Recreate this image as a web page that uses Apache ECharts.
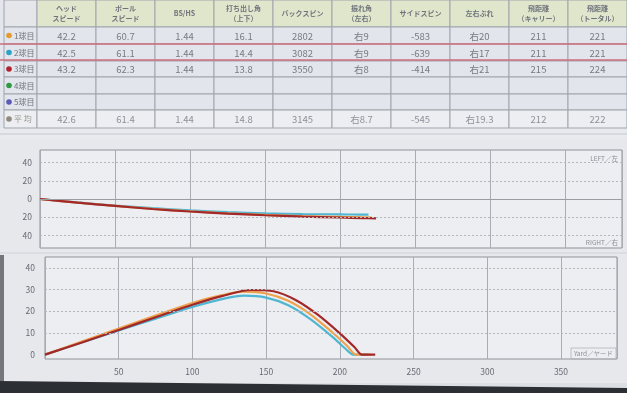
<!DOCTYPE html>
<html><head><meta charset="utf-8">
<script src="https://cdn.jsdelivr.net/npm/echarts@6/dist/echarts.min.js"></script>
<style>html,body{margin:0;padding:0;background:#dcdfe4}#c{width:627px;height:393px}</style>
</head><body><div id="c"></div>
<script>
// ---- table data ----
const headers = ['ヘッド\nスピード','ボール\nスピード','BS/HS','打ち出し角\n（上下）','バックスピン','振れ角\n（左右）','サイドスピン','左右ぶれ','飛距離\n（キャリー）','飛距離\n（トータル）'];
const rowLabels = ['1球目','2球目','3球目','4球目','5球目','平 均'];
const rowDotColors = ['#e49a2c','#2aa3c4','#b0222e','#2e9a44','#5a5ab8','#8f8a80'];
const shot1 = ['42.2','60.7','1.44','16.1','2802','右9','-583','右20','211','221'];
const shot2 = ['42.5','61.1','1.44','14.4','3082','右9','-639','右17','211','221'];
const shot3 = ['43.2','62.3','1.44','13.8','3550','右8','-414','右21','215','224'];
const shot4 = ['','','','','','','','','',''];
const shot5 = ['','','','','','','','','',''];
const average = ['42.6','61.4','1.44','14.8','3145','右8.7','-545','右19.3','212','222'];
const tableRows = [shot1, shot2, shot3, shot4, shot5, average];

// ---- chart data (yards) ----
const sideLabels = ['LEFT／左','RIGHT／右'];
const distLabel = 'Yard／ヤード';
// top view: [distance, lateral] (negative = right)
const side1 = [[0,0],[25,-4],[50,-7.5],[75,-10.8],[100,-13.5],[125,-15.8],[150,-17.6],[175,-18.9],[200,-19.7],[211,-20],[221,-20.3]];
const side2 = [[0,0],[25,-3.8],[50,-7.2],[75,-10.1],[100,-12.5],[125,-14.4],[150,-15.8],[175,-16.6],[200,-17],[209,-17.1],[219,-17.2]];
const side3 = [[0,0],[25,-4],[50,-7.6],[75,-11],[100,-13.8],[125,-16.1],[150,-17.9],[175,-19.4],[200,-20.4],[215,-21],[224,-21.3]];
// side view: [distance, height]
const height1 = [[0,0],[25,6],[50,12],[75,18],[100,23.8],[120,27.4],[135,29],[150,28.2],[165,24.8],[180,18.6],[195,10.2],[205,4],[211,0],[221,0]];
const height2 = [[0,0],[25,5.6],[50,11.2],[75,16.6],[100,22],[120,25.6],[135,27.2],[150,26.3],[165,22.8],[180,16.4],[195,8.2],[204,2.6],[209,0],[219,0]];
const height3 = [[0,0],[25,5.6],[50,11.4],[75,17.2],[100,23],[120,27],[140,29.8],[155,29.2],[170,25.2],[185,18.4],[200,9.8],[210,3.4],[215,0],[224,0]];

const cOrange = '#eea24e', cTeal = '#4eb6d2', cRed = '#a2282a';
const gridLine = '#a9adb3', dashLine = '#b4b8be', txt = '#767b83';
const FONT = '"Noto Sans CJK JP","Noto Sans",sans-serif';

// ---- table graphics ----
const colX = [4, 37];
for (let i = 1; i <= headers.length; i++) colX.push(37 + 59 * i);
colX[colX.length - 1] = 627;
const rowY = [0, 27, 44, 61, 77, 94, 110, 128];
const g = [];
g.push({type:'rect', shape:{x:0,y:0,width:627,height:393}, style:{fill:'#dcdfe4'}, z:-10});
g.push({type:'rect', shape:{x:0,y:0,width:627,height:128}, style:{fill:'#e3e6ec'}, z:-9});
g.push({type:'rect', shape:{x:0,y:128,width:627,height:11}, style:{fill:'#e8eaed'}, z:-9});
g.push({type:'line', shape:{x1:0,y1:134,x2:627,y2:134}, style:{stroke:'#c6c9cf',lineWidth:1}, z:-8});
g.push({type:'rect', shape:{x:0,y:139,width:627,height:244}, style:{fill:'#e6e8ec'}, z:-9});
g.push({type:'line', shape:{x1:0,y1:253,x2:627,y2:253}, style:{stroke:'#cfd2d7',lineWidth:1}, z:-8});
g.push({type:'rect', shape:{x:0,y:255,width:4,height:138}, style:{fill:'#73767b'}, z:-8});
g.push({type:'polygon', shape:{points:[[0,381],[627,388],[627,393],[0,393]]}, style:{fill:'#2c2f34'}, z:-7});

// header row
for (let c = 0; c < colX.length - 1; c++) {
  g.push({type:'rect', shape:{x:colX[c],y:rowY[0],width:colX[c+1]-colX[c],height:rowY[1]-rowY[0]},
    style:{fill: c === 0 ? '#e4e6ea' : '#dfe6cb', stroke:'#a0a5ad', lineWidth:1}});
  if (c > 0) g.push({type:'text', x:(colX[c]+colX[c+1])/2, y:13.5,
    style:{text:headers[c-1], fill:'#6f747c', font:'bold 7px '+FONT, align:'center', verticalAlign:'middle', lineHeight:10}});
}
// body rows
for (let r = 0; r < tableRows.length; r++) {
  const y0 = rowY[r+1], y1 = rowY[r+2], cy = (y0 + y1) / 2;
  for (let c = 0; c < colX.length - 1; c++) {
    g.push({type:'rect', shape:{x:colX[c],y:y0,width:colX[c+1]-colX[c],height:y1-y0},
      style:{fill: r === 5 ? '#eceef1' : '#e2e5ec', stroke:'#a0a5ad', lineWidth:1}});
  }
  g.push({type:'circle', shape:{cx:9,cy:cy,r:2.8}, style:{fill:rowDotColors[r]}});
  g.push({type:'text', x:14, y:cy, style:{text:rowLabels[r], fill: r===5 ? '#9a9690' : '#6f747c', font:'8px '+FONT, verticalAlign:'middle'}});
  tableRows[r].forEach((v, i) => {
    g.push({type:'text', x:(colX[i+1]+colX[i+2])/2, y:cy+0.5,
      style:{text:v, fill: r===5 ? '#8d9198' : txt, font:'9.5px '+FONT, align:'center', verticalAlign:'middle'}});
  });
}
// highlight of row 2
g.push({type:'line', shape:{x1:0,y1:44,x2:627,y2:44}, style:{stroke:'#cf6f7c',lineWidth:1.5}, z:5});
g.push({type:'line', shape:{x1:0,y1:60,x2:627,y2:60}, style:{stroke:'#cf6f7c',lineWidth:1.5}, z:5});
// corner labels
g.push({type:'text', x:618, y:159, style:{text:sideLabels[0], fill:'#8a8e95', font:'6.5px '+FONT, align:'right', verticalAlign:'middle'}});
g.push({type:'text', x:618, y:243, style:{text:sideLabels[1], fill:'#8a8e95', font:'6.5px '+FONT, align:'right', verticalAlign:'middle'}});
g.push({type:'rect', shape:{x:571,y:348,width:45,height:11}, style:{fill:'none', stroke:'#b0b4ba', lineWidth:0.8}});
g.push({type:'text', x:613, y:354, style:{text:distLabel, fill:'#8a8e95', font:'6.5px '+FONT, align:'right', verticalAlign:'middle'}});

const lbl = {color:'#676b72', fontSize:8.5, fontFamily:FONT};
const hLines = (vals, zero) => ({
  silent:true, symbol:'none', label:{show:false},
  lineStyle:{color:dashLine, type:[2,2], width:1},
  data: vals.map(v => ({yAxis:v})).concat(zero ? [{yAxis:0, lineStyle:{color:'#989ca3', type:'solid', width:1}}] : [])
});
const lineSeries = (xi, data, color, extra) => Object.assign({
  type:'line', xAxisIndex:xi, yAxisIndex:xi, data:data, smooth:0.3,
  showSymbol:false, lineStyle:{color:color, width:2.2}
}, extra || {});

const option = {
  animation:false,
  graphic:{elements:g},
  grid:[
    {left:40, top:150, right:5, height:98, show:true, backgroundColor:'#eceef1', borderColor:'#8e9298', borderWidth:1},
    {left:45, top:257, right:10, height:102, show:true, backgroundColor:'#eceef1', borderColor:'#8e9298', borderWidth:1}
  ],
  xAxis:[
    {gridIndex:0, type:'value', min:0, max:388, interval:50, axisLine:{show:false}, axisTick:{show:false},
      axisLabel:{show:false}, splitLine:{show:true, lineStyle:{color:gridLine, width:1}}},
    {gridIndex:1, type:'value', min:0, max:388, interval:50, axisLine:{show:false}, axisTick:{show:false},
      axisLabel:Object.assign({showMinLabel:false, showMaxLabel:false, margin:9}, lbl),
      splitLine:{show:true, lineStyle:{color:gridLine, width:1}}}
  ],
  yAxis:[
    {gridIndex:0, type:'value', min:-54, max:54, interval:2, axisLine:{show:false}, axisTick:{show:false}, splitLine:{show:false},
      axisLabel:Object.assign({margin:8, formatter:v => (v % 20 === 0 && Math.abs(v) <= 40) ? String(Math.abs(v)) : ''}, lbl)},
    {gridIndex:1, type:'value', min:-2, max:45, interval:1, axisLine:{show:false}, axisTick:{show:false}, splitLine:{show:false},
      axisLabel:Object.assign({margin:10, formatter:v => (v % 10 === 0 && v >= 0 && v <= 40) ? String(v) : ''}, lbl)}
  ],
  series:[
    lineSeries(0, side2, cTeal, {markLine:hLines([-40,-20,20,40], true)}),
    lineSeries(0, side1, cOrange),
    lineSeries(0, side3, cRed),
    lineSeries(1, height2, cTeal, {markLine:hLines([10,20,30,40], false)}),
    lineSeries(1, height1, cOrange),
    lineSeries(1, height3, cRed)
  ]
};
const chart = echarts.init(document.getElementById('c'), null, {renderer:'canvas'});
chart.setOption(option);
</script></body></html>
